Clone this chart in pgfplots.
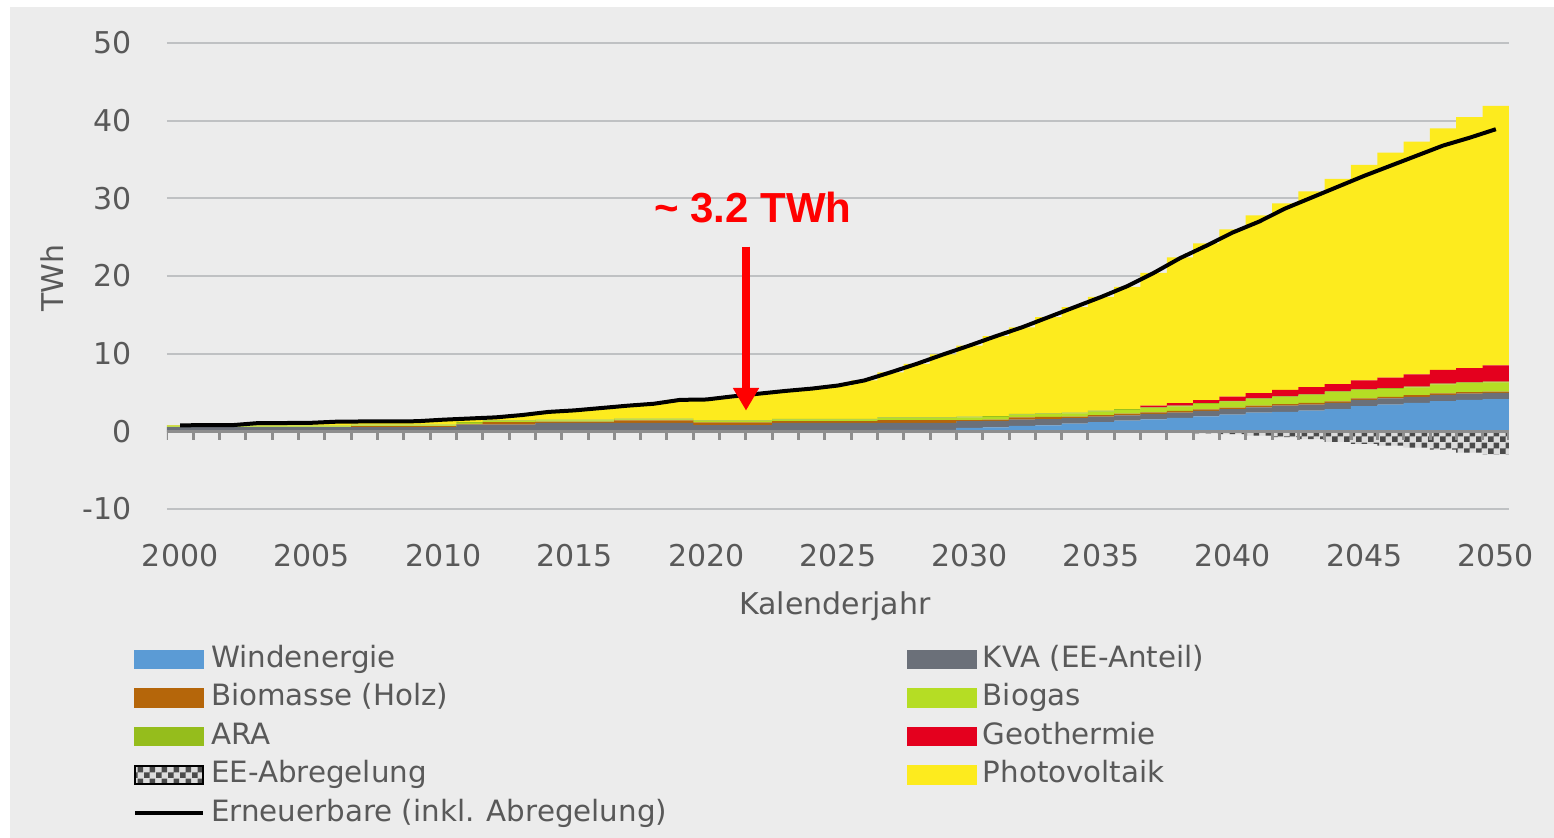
\documentclass[border=0pt]{standalone}
\usepackage{pgfplots}
\usepackage{pgfplotstable}
\pgfplotsset{compat=1.18}
\usepackage{fontspec}
\setmainfont{DejaVu Sans}
\newfontfamily\annofont{Liberation Sans}
\usetikzlibrary{patterns,arrows.meta}

\pgfdeclarepatternformonly{mychk}{\pgfpointorigin}{\pgfqpoint{3.6pt}{3.6pt}}{\pgfqpoint{3.6pt}{3.6pt}}{%
  \pgfpathrectangle{\pgfpointorigin}{\pgfqpoint{1.8pt}{1.8pt}}%
  \pgfpathrectangle{\pgfqpoint{1.8pt}{1.8pt}}{\pgfqpoint{1.8pt}{1.8pt}}%
  \pgfusepath{fill}}

\definecolor{bgc}{HTML}{ECECEC}
\definecolor{gridc}{HTML}{BFC1C3}
\definecolor{axc}{HTML}{8E8E8E}
\definecolor{txt}{HTML}{595959}
\definecolor{cWind}{HTML}{5B9BD5}
\definecolor{cKVA}{HTML}{6B7079}
\definecolor{cBio}{HTML}{B5660A}
\definecolor{cBiogas}{HTML}{B5DD24}
\definecolor{cARA}{HTML}{95BD1C}
\definecolor{cGeo}{HTML}{E4001E}
\definecolor{cPV}{HTML}{FDEB1E}
\definecolor{cChk}{HTML}{4A4A4A}
\definecolor{cChkBg}{HTML}{DCDCDC}
\definecolor{cRed}{HTML}{FF0000}

\pgfplotstableread{
year W K B G A Geo PV Ab L
2000 0 0.55 0 0.1 0.1 0 0.05 0 0.77
2001 0 0.55 0 0.1 0.1 0 0.05 0 0.8
2002 0 0.55 0 0.1 0.1 0 0.05 0 0.8
2003 0 0.55 0 0.1 0.1 0 0.3 0 1.07
2004 0 0.55 0 0.1 0.1 0 0.32 0 1.07
2005 0 0.55 0 0.1 0.1 0 0.35 0 1.1
2006 0 0.55 0 0.1 0.1 0 0.5 0 1.25
2007 0 0.55 0.12 0.1 0.1 0 0.4 0 1.27
2008 0 0.55 0.12 0.1 0.1 0 0.41 0 1.28
2009 0 0.55 0.12 0.1 0.1 0 0.43 0 1.3
2010 0 0.55 0.12 0.1 0.1 0 0.63 0 1.5
2011 0 0.85 0.12 0.12 0.1 0 0.46 0 1.65
2012 0 0.85 0.35 0.12 0.1 0 0.38 0 1.8
2013 0 0.85 0.35 0.12 0.1 0 0.68 0 2.1
2014 0 1.1 0.15 0.15 0.1 0 1.0 0 2.5
2015 0 1.1 0.15 0.15 0.1 0 1.2 0 2.7
2016 0 1.1 0.15 0.15 0.1 0 1.5 0 3.0
2017 0 1.1 0.3 0.15 0.1 0 1.65 0 3.3
2018 0 1.1 0.3 0.15 0.1 0 1.9 0 3.55
2019 0 1.1 0.3 0.15 0.1 0 2.4 0 4.05
2020 0 0.8 0.35 0.15 0.1 0 2.7 0 4.1
2021 0 0.8 0.35 0.15 0.1 0 3.1 0 4.5
2022 0 0.8 0.35 0.15 0.1 0 3.45 0 4.85
2023 0 1.1 0.2 0.2 0.1 0 3.6 0 5.2
2024 0 1.1 0.2 0.2 0.1 0 3.9 0 5.5
2025 0 1.1 0.2 0.2 0.1 0 4.3 0 5.9
2026 0 1.1 0.2 0.2 0.1 0 4.95 0 6.55
2027 0.2 0.9 0.35 0.25 0.1 0 5.8 0 7.6
2028 0.2 0.9 0.35 0.25 0.1 0 6.9 0 8.7
2029 0.2 0.9 0.35 0.25 0.1 0 8.1 0 9.9
2030 0.45 0.85 0.15 0.35 0.1 0 9.15 0 11.05
2031 0.5 0.85 0.15 0.35 0.1 0 10.3 0 12.25
2032 0.7 0.8 0.3 0.35 0.1 0 11.15 0 13.4
2033 0.77 0.8 0.3 0.35 0.1 0 12.38 0 14.7
2034 1.0 0.7 0.2 0.4 0.1 0 13.6 0 16.0
2035 1.2 0.7 0.2 0.45 0.1 0 14.65 0 17.3
2036 1.37 0.7 0.2 0.5 0.1 0 15.73 -0.05 18.7
2037 1.55 0.7 0.2 0.55 0.1 0.2 17.1 -0.1 20.4
2038 1.72 0.7 0.2 0.6 0.1 0.3 18.78 -0.15 22.3
2039 1.93 0.7 0.2 0.7 0.1 0.4 20.17 -0.25 23.9
2040 2.15 0.7 0.2 0.77 0.1 0.55 21.53 -0.35 25.6
2041 2.4 0.7 0.2 0.85 0.1 0.66 22.89 -0.55 27.0
2042 2.5 0.8 0.2 0.9 0.1 0.83 24.02 -0.75 28.7
2043 2.65 0.8 0.2 1.0 0.1 0.95 25.2 -1.0 30.1
2044 2.85 0.8 0.2 1.2 0.1 0.94 26.41 -1.35 31.5
2045 3.25 0.8 0.2 1.05 0.1 1.17 27.73 -1.6 32.9
2046 3.45 0.8 0.2 1.0 0.1 1.36 28.99 -1.85 34.2
2047 3.65 0.8 0.2 1.0 0.1 1.58 29.97 -2.1 35.5
2048 3.9 0.8 0.2 1.15 0.1 1.76 31.09 -2.35 36.8
2049 4.05 0.8 0.2 1.15 0.1 1.84 32.31 -2.75 37.8
2050 4.15 0.8 0.15 1.2 0.1 2.1 33.4 -3.0 38.9
}\datatable

\pgfplotsset{
  base/.style={scale only axis, width=402.6pt, height=139.8pt,
    xmin=1999.5, xmax=2050.5, ymin=-10, ymax=50,
    at={(50.1pt,98.7pt)}, anchor=south west},
}
\newcommand{\swatch}[1]{\addlegendimage{legend image code/.code={\fill[#1] (0pt,-2.7pt) rectangle (20.4pt,2.7pt);}}}

\begin{document}
\begin{tikzpicture}[x=1pt,y=1pt]
\path[use as bounding box] (0,0) rectangle (466.2,251.4);
\fill[white] (0,0) rectangle (466.2,251.4);
\fill[bgc] (3,0) rectangle (466.2,249.3);

\begin{axis}[base,
  ybar stacked, bar width=1.01,
  axis line style={draw=none},
  major tick length=0pt, minor tick length=0pt,
  ytick={-10,0,10,20,30,40,50}, yticklabels={-10,0,10,20,30,40,50},
  xtick={2000,2005,...,2050},
  xticklabels={2000,2005,2010,2015,2020,2025,2030,2035,2040,2045,2050},
  ymajorgrids, grid style={gridc, line width=0.6pt},
  yticklabel style={anchor=east, inner sep=0pt, xshift=-10.5pt, text=txt, font=\fontsize{9pt}{10.8pt}\selectfont},
  xticklabel style={anchor=north, inner sep=0pt, yshift=-10.4pt, text=txt, font=\fontsize{9pt}{10.8pt}\selectfont},
  legend columns=2,
  legend cell align=left,
  legend style={at={(-0.0253,-0.2897)}, anchor=north west, draw=none, fill=none,
    inner sep=0pt, outer sep=0pt,
    font=\fontsize{8.8pt}{10.5pt}\selectfont, text=txt, row sep=2.25pt,
    nodes={inner sep=0pt, text height=7pt, text depth=2.3pt},
    /tikz/every odd column/.append style={column sep=1.8pt},
    /tikz/every even column/.append style={column sep=72.1pt}},
]
\swatch{cWind}\addlegendentry{Windenergie}
\swatch{cKVA}\addlegendentry{KVA (EE-Anteil)}
\swatch{cBio}\addlegendentry{Biomasse (Holz)}
\swatch{cBiogas}\addlegendentry{Biogas}
\swatch{cARA}\addlegendentry{ARA}
\swatch{cGeo}\addlegendentry{Geothermie}
\addlegendimage{legend image code/.code={\fill[cChkBg] (0pt,-2.7pt) rectangle (20.4pt,2.7pt);\fill[pattern=mychk, pattern color=cChk] (0pt,-2.7pt) rectangle (20.4pt,2.7pt);}}\addlegendentry{EE-Abregelung}
\swatch{cPV}\addlegendentry{Photovoltaik}
\addlegendimage{legend image code/.code={\draw[black, line width=1.2pt] (0pt,0pt) -- (20.4pt,0pt);}}\addlegendentry{Erneuerbare (inkl. Abregelung)}

\addplot[fill=cWind, draw=none] table[x=year,y=W]{\datatable};
\addplot[fill=cKVA, draw=none] table[x=year,y=K]{\datatable};
\addplot[fill=cBio, draw=none] table[x=year,y=B]{\datatable};
\addplot[fill=cBiogas, draw=none] table[x=year,y=G]{\datatable};
\addplot[fill=cARA, draw=none] table[x=year,y=A]{\datatable};
\addplot[fill=cGeo, draw=none] table[x=year,y=Geo]{\datatable};
\addplot[fill=cPV, draw=none] table[x=year,y=PV]{\datatable};
\end{axis}

\begin{axis}[base, hide axis]
\addplot[ybar, bar width=1.01, bar shift=0pt, fill=cChkBg, draw=none,
  postaction={pattern=mychk, pattern color=cChk}] table[x=year,y=Ab]{\datatable};
\draw[axc, line width=0.9pt] (axis cs:1999.5,0) -- (axis cs:2050.5,0);
\pgfplotsinvokeforeach{1999.5,2000.5,...,2050.5}{\draw[axc, line width=0.9pt] (axis cs:#1,0) -- ++(0pt,-2.7pt);}
\addplot[black, line width=1.2pt, mark=none, line join=round] table[x=year,y=L]{\datatable};
\end{axis}

\node[rotate=90, text=txt, font=\fontsize{9pt}{10.8pt}\selectfont] at (15.6,168) {TWh};
\node[text=txt, font=\fontsize{9pt}{10.8pt}\selectfont] at (250.5,69.5) {Kalenderjahr};
\node[text=cRed, font=\annofont\bfseries\fontsize{12.6pt}{15pt}\selectfont] at (225.9,189) {\textasciitilde{} 3.2 TWh};
\draw[cRed, line width=2.25pt, -{Triangle[width=7.4pt, length=6.8pt]}] (223.8,177.4) -- (223.8,128.2);
\end{tikzpicture}
\end{document}
